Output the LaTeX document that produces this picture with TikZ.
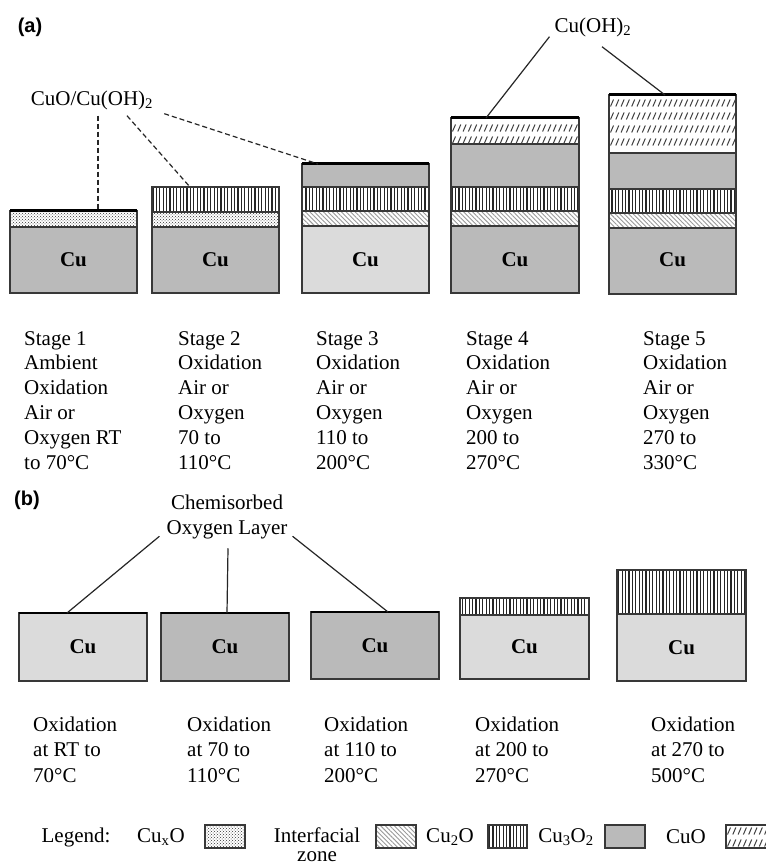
\documentclass[tikz,border=0pt]{standalone}
\usepackage{fontspec}
\setmainfont{Liberation Serif}
\newfontfamily\panelfont{Liberation Sans}
\usetikzlibrary{patterns, patterns.meta, calc}
\tikzset{
    lay/.style={draw=black!78, line width=1.2pt},
    cu/.style={lay, fill=black!27},
    culight/.style={lay, fill=black!14},
    cuo/.style={lay, fill=black!27},
    cuxo/.style={lay, pattern=crosshatch dots, pattern color=black!80},
    iface/.style={lay, pattern={Lines[angle=-45, distance=3.2pt, line width=0.9pt]}, pattern color=black!40},
    ctwoo/.style={lay, pattern={Lines[angle=90, distance=3.4pt, line width=1.1pt]}, pattern color=black!85},
    film/.style={line width=3pt, black},
    link/.style={line width=1.2pt, black!85},
    dlink/.style={link, dashed, dash pattern=on 5pt off 3pt},
    stagetxt/.style={font=\fontsize{21}{24.8}\selectfont, align=left, inner sep=0pt, anchor=base west},
    cutxt/.style={font=\fontsize{21}{21}\selectfont\bfseries},
    lbl/.style={font=\fontsize{21}{25}\selectfont, inner sep=1pt},
    panel/.style={font=\panelfont\bfseries\fontsize{20}{20}\selectfont}
}
% short slanted strokes for the CuO layer
\newcommand{\cuohatch}[3]{%
  \begin{scope}
    \clip (#1,0) rectangle (#2,866);
    \foreach \ry in {#3}
      \foreach \k in {0,...,24}
        \draw[line width=1pt, black!75] (#1+1.5+\k*5.3,\ry+3.5) -- (#1+4.5+\k*5.3,\ry-3.5);
  \end{scope}}

\begin{document}
\begin{tikzpicture}[x=1pt, y=-1pt]
    \fill[white] (0,0) rectangle (765,866);
    \useasboundingbox (0,0) rectangle (765,866);

    % (a) stacks
    \draw[cu] (10,227) rectangle (137,293);
    \draw[cuxo] (10,211) rectangle (137,227);
    \draw[film] (10,211) -- (137,211);

    \draw[cu] (152,227) rectangle (279,293);
    \draw[cuxo] (152,212) rectangle (279,227);
    \draw[ctwoo] (152,187) rectangle (279,212);

    \draw[culight] (302,226) rectangle (429,293);
    \draw[iface] (302,211) rectangle (429,226);
    \draw[ctwoo] (302,187) rectangle (429,211);
    \draw[cuo] (302,164) rectangle (429,187);
    \draw[film] (302,164) -- (429,164);

    \draw[cu] (451,226) rectangle (579,293);
    \draw[iface] (451,211) rectangle (579,226);
    \draw[ctwoo] (451,187) rectangle (579,211);
    \draw[cuo] (451,144) rectangle (579,187);
    \cuohatch{451}{579}{128,140}
    \draw[lay] (451,118) rectangle (579,144);
    \draw[film] (451,118) -- (579,118);

    \draw[cu] (609,228) rectangle (736,294);
    \draw[iface] (609,213) rectangle (736,228);
    \draw[ctwoo] (609,189) rectangle (736,213);
    \draw[cuo] (609,153) rectangle (736,189);
    \cuohatch{609}{736}{103,116,129,142}
    \draw[lay] (609,95) rectangle (736,153);
    \draw[film] (609,95) -- (736,95);

    \foreach \cx/\cn in {73.5/1, 215.5/2, 365.5/3, 515/4, 672.5/5}
        \node[cutxt] (cua\cn) at (\cx,260) {Cu};

    \coordinate (s1top) at (98,211);
    \coordinate (s2top) at (190,187);
    \coordinate (s3top) at (318,164);
    \coordinate (s4top) at (486,118);
    \coordinate (s5top) at (665,95);

    \node[panel] (pa) at (30,27) {(a)};
    \node[lbl] (mixlbl) at (92,100) {CuO/Cu(OH)\textsubscript{2}};
    \node[lbl] (hydlbl) at (593,27) {Cu(OH)\textsubscript{2}};

    \draw[dlink] ($(mixlbl.south -| s1top)+(0,5)$) -- (s1top);
    \draw[dlink] ($(mixlbl.south)+(35,5)$) -- (s2top);
    \draw[dlink] ($(mixlbl.south east)+(10,3)$) -- (s3top);
    \draw[link] ($(hydlbl.south west)+(-4,-1)$) -- (s4top);
    \draw[link] ($(hydlbl.south)+(9,9)$) -- (s5top);

    % text blocks sit on the baseline of their last line
    \node[stagetxt] (st1) at (24,469) {Stage 1\\Ambient\\Oxidation\\Air or\\Oxygen RT\\to 70°C};
    \node[stagetxt] (st2) at (178,469) {Stage 2\\Oxidation\\Air or\\Oxygen\\70 to\\110°C};
    \node[stagetxt] (st3) at (316,469) {Stage 3\\Oxidation\\Air or\\Oxygen\\110 to\\200°C};
    \node[stagetxt] (st4) at (466,469) {Stage 4\\Oxidation\\Air or\\Oxygen\\200 to\\270°C};
    \node[stagetxt] (st5) at (643,469) {Stage 5\\Oxidation\\Air or\\Oxygen\\270 to\\330°C};

    % (b) blocks
    \node[panel] (pb) at (27,500) {(b)};
    \node[lbl, align=center] (chemlbl) at (227,517) {Chemisorbed\\Oxygen Layer};

    \draw[culight] (19,613) rectangle (147,681);
    \draw[film, line width=2.5pt] (19,613) -- (147,613);
    \draw[cu] (161,613) rectangle (289,681);
    \draw[film, line width=2.5pt] (161,613) -- (289,613);
    \draw[cu] (311,612) rectangle (439,679);
    \draw[film, line width=2.5pt] (311,612) -- (439,612);
    \draw[culight] (460,615) rectangle (589,679);
    \draw[ctwoo] (460,598) rectangle (589,615);
    \draw[culight] (617,614) rectangle (746,681);
    \draw[ctwoo] (617,570) rectangle (746,614);

    \foreach \cx/\cy/\cn in {83/647/1, 225/647/2, 375/646/3, 524.5/647/4, 681.5/647.5/5}
        \node[cutxt] (cub\cn) at (\cx,\cy) {Cu};

    \coordinate (b1top) at (67,613);
    \coordinate (b2top) at (227,613);
    \coordinate (b3top) at (388,612);
    \draw[link] ($(chemlbl.south west)+(-6,-4)$) -- (b1top);
    \draw[link] ($(chemlbl.south)+(1,8)$) -- (b2top);
    \draw[link] ($(chemlbl.south east)+(4,-4)$) -- (b3top);

    \node[stagetxt, font=\fontsize{21}{25.5}\selectfont] (ox1) at (33,782) {Oxidation\\at RT to\\70°C};
    \node[stagetxt, font=\fontsize{21}{25.5}\selectfont] (ox2) at (187,782) {Oxidation\\at 70 to\\110°C};
    \node[stagetxt, font=\fontsize{21}{25.5}\selectfont] (ox3) at (324,782) {Oxidation\\at 110 to\\200°C};
    \node[stagetxt, font=\fontsize{21}{25.5}\selectfont] (ox4) at (475,782) {Oxidation\\at 200 to\\270°C};
    \node[stagetxt, font=\fontsize{21}{25.5}\selectfont] (ox5) at (651,782) {Oxidation\\at 270 to\\500°C};

    % legend
    \node[lbl] (lgd) at (76,837) {Legend:};
    \node[lbl] (lgcuxo) at (161,837) {Cu\textsubscript{x}O};
    \draw[cuxo] (205,825) rectangle (245,848);
    \node[lbl, align=center, anchor=base, font=\fontsize{21}{19}\selectfont] (lgif) at (317,861) {Interfacial\\zone};
    \draw[iface] (376,825) rectangle (416,848);
    \node[lbl] (lgctwo) at (450,837) {Cu\textsubscript{2}O};
    \draw[ctwoo] (488,825) rectangle (527,848);
    \node[lbl] (lgcthree) at (566,837) {Cu\textsubscript{3}O\textsubscript{2}};
    \draw[cuo] (605,825) rectangle (645,848);
    \node[lbl] (lgcuo) at (686,837) {CuO};
    \cuohatch{726}{770}{831,843}
    \draw[lay] (726,825) rectangle (770,848);
\end{tikzpicture}
\end{document}
